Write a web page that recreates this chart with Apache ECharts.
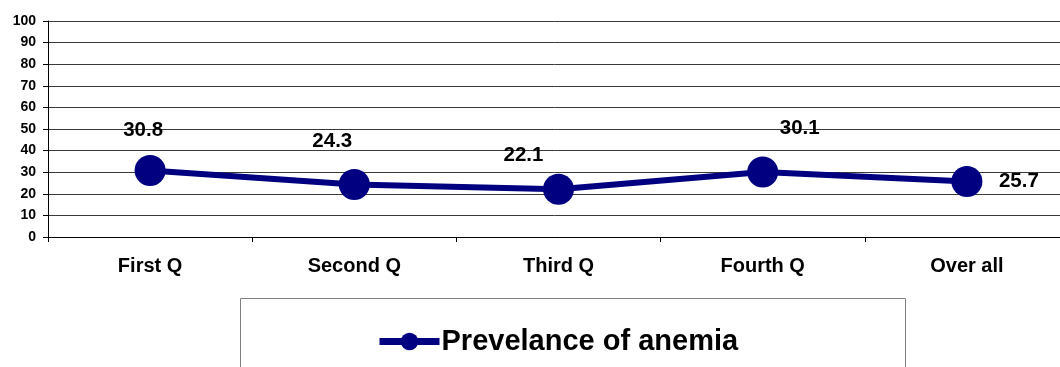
<!DOCTYPE html>
<html>
<head>
<meta charset="utf-8">
<script src="https://cdn.jsdelivr.net/npm/echarts@6/dist/echarts.min.js"></script>
<style>
  html, body { margin: 0; padding: 0; background: #fff; }
  #chart { width: 1060px; height: 367px; }
</style>
</head>
<body>
<div id="chart"></div>
<script>
// Quarter categories along the x axis
const categories = ['First Q', 'Second Q', 'Third Q', 'Fourth Q', 'Over all'];
// Prevalence of anemia (%) per period
const prevalence = [30.8, 24.3, 22.1, 30.1, 25.7];
// Value-axis range and step
const yMin = 0, yMax = 100, yStep = 10;
const seriesName = 'Prevelance of anemia';

// Per-point label placement (offset from marker centre)
const labelOffsets = [[-7, -40], [-22, -43], [-35, -34], [37, -44], [52, 0]];

const FONT = '"Liberation Sans", Arial, sans-serif';
const NAVY = '#000080';

const chart = echarts.init(document.getElementById('chart'), null, { renderer: 'canvas' });

chart.setOption({
  animation: false,
  backgroundColor: '#ffffff',
  grid: {
    left: 48, top: 21, width: 1021, height: 216,
    containLabel: false,
    outerBoundsMode: 'none'
  },
  xAxis: {
    type: 'category',
    data: categories,
    boundaryGap: true,
    axisLine: { lineStyle: { color: '#000', width: 1 } },
    axisTick: { show: true, length: 5, lineStyle: { color: '#000' } },
    axisLabel: { color: '#000', fontFamily: FONT, fontWeight: 'bold', fontSize: 20, margin: 19 },
    splitLine: { show: false }
  },
  yAxis: {
    type: 'value',
    min: yMin, max: yMax, interval: yStep,
    axisLine: { show: true, lineStyle: { color: '#000', width: 1 } },
    axisTick: { show: true, length: 5, lineStyle: { color: '#000' } },
    axisLabel: { color: '#000', fontFamily: FONT, fontWeight: 'bold', fontSize: 14, margin: 12 },
    splitLine: { show: true, lineStyle: { color: '#3a3a3a', width: 1 } }
  },
  legend: {
    data: [seriesName],
    left: 371, top: 322,
    itemWidth: 60, itemHeight: 22, itemGap: 0,
    lineStyle: { width: 7 },
    textStyle: { color: '#000', fontFamily: FONT, fontWeight: 'bold', fontSize: 29, padding: [0, 0, 0, -3] }
  },
  graphic: [{
    type: 'rect',
    shape: { x: 240.5, y: 298.5, width: 665, height: 90 },
    style: { fill: 'none', stroke: '#808080', lineWidth: 1 },
    silent: true,
    z: -1
  }],
  series: [{
    name: seriesName,
    type: 'line',
    data: prevalence.map((v, i) => ({
      value: v,
      label: { offset: labelOffsets[i] }
    })),
    symbol: 'circle',
    symbolSize: 31,
    lineStyle: { color: NAVY, width: 6 },
    itemStyle: { color: NAVY },
    label: {
      show: true,
      position: 'inside',
      color: '#000',
      fontFamily: FONT,
      fontWeight: 'bold',
      fontSize: 20.5
    }
  }]
});
</script>
</body>
</html>
